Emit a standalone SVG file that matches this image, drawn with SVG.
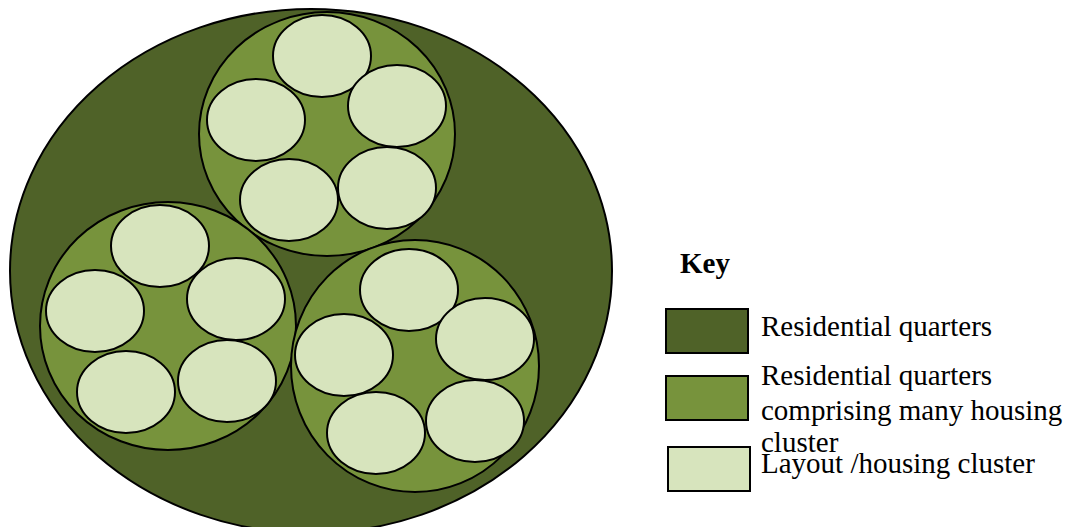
<svg xmlns="http://www.w3.org/2000/svg" width="1066" height="527" viewBox="0 0 1066 527">
<style>
.s{stroke:#000;stroke-width:2}
.d{fill:#4F6228}
.m{fill:#77933C}
.l{fill:#D7E4BD}
text{font-family:"Liberation Serif","Times New Roman",serif;font-size:29px;fill:#000}
</style>
<rect width="1066" height="527" fill="#fff"/>
<g id="outer"><ellipse class="s d" cx="311" cy="271" rx="301" ry="262"/></g>
<g id="cluster-top">
<ellipse class="s m" cx="327" cy="134" rx="128" ry="122"/>
<ellipse class="s l" cx="322" cy="56" rx="49" ry="41"/>
<ellipse class="s l" cx="256" cy="120" rx="49" ry="41"/>
<ellipse class="s l" cx="397" cy="106" rx="49" ry="41"/>
<ellipse class="s l" cx="289" cy="200" rx="49" ry="41"/>
<ellipse class="s l" cx="387" cy="188" rx="49" ry="41"/>
</g>
<g id="cluster-left">
<ellipse class="s m" cx="168" cy="326" rx="128" ry="124"/>
<ellipse class="s l" cx="160" cy="246" rx="49" ry="41"/>
<ellipse class="s l" cx="95" cy="311" rx="49" ry="41"/>
<ellipse class="s l" cx="236" cy="299" rx="49" ry="41"/>
<ellipse class="s l" cx="126" cy="392" rx="49" ry="41"/>
<ellipse class="s l" cx="227" cy="381" rx="49" ry="41"/>
</g>
<g id="cluster-right">
<ellipse class="s m" cx="415" cy="366" rx="124" ry="126"/>
<ellipse class="s l" cx="409" cy="290" rx="49" ry="41"/>
<ellipse class="s l" cx="344" cy="355" rx="49" ry="41"/>
<ellipse class="s l" cx="485" cy="339" rx="49" ry="41"/>
<ellipse class="s l" cx="376" cy="433" rx="49" ry="41"/>
<ellipse class="s l" cx="475" cy="421" rx="49" ry="41"/>
</g>
<g id="key">
<text x="680" y="273" font-weight="bold">Key</text>
<rect class="s d" x="666" y="309" width="82" height="44"/>
<rect class="s m" x="666" y="376" width="82" height="44"/>
<rect class="s l" x="668" y="447" width="82" height="44"/>
<text x="761" y="336">Residential quarters</text>
<text x="761" y="385">Residential quarters</text>
<text x="761" y="420">comprising many housing</text>
<text x="761" y="452">cluster</text>
<text x="761" y="473">Layout /housing cluster</text>
</g>
</svg>
